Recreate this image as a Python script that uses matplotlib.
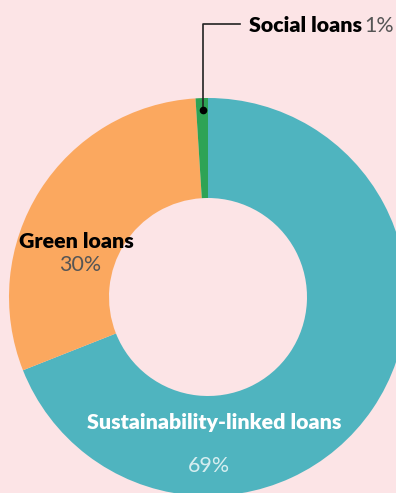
import matplotlib.pyplot as plt

# data
labels = ["Sustainability-linked loans", "Green loans", "Social loans"]
shares = [69, 30, 1]
colors = ["#4fb4bf", "#fba85f", "#2ea355"]

plt.rcParams['font.family'] = ['Lato', 'DejaVu Sans']

W, H = 396, 493
fig = plt.figure(figsize=(W / 100, H / 100), dpi=100, facecolor="#fce4e6")
ax = fig.add_axes([0, 0, 1, 1])
ax.set_facecolor("#fce4e6")

cx, cy, r = 208, 297, 199
# y axis is inverted, so counterclock=True draws clockwise on screen
ax.pie(shares, colors=colors, startangle=-90, counterclock=True,
       center=(cx, cy), radius=r, frame=True,
       wedgeprops=dict(width=100, linewidth=0))
ax.set_xlim(0, W)
ax.set_ylim(H, 0)
ax.set_aspect("equal")
ax.axis("off")

fs = 15.4

# social loans callout
ax.plot([203, 203, 240], [110, 24, 24], color="#222222", lw=1.2)
ax.plot(203, 110, "o", color="black", ms=4.5)
ax.text(249, 26, labels[2], fontsize=fs, fontweight="heavy", va="center", ha="left", color="black")
ax.text(394, 26, f"{shares[2]}%", fontsize=fs, fontweight="normal", va="center", ha="right", color="#555555")

ax.text(76, 241, labels[1], fontsize=fs, fontweight="heavy", va="center", ha="center", color="black")
ax.text(80, 265, f"{shares[1]}%", fontsize=fs, fontweight="normal", va="center", ha="center", color="#555555")

ax.text(214, 422, labels[0], fontsize=fs, fontweight="heavy", va="center", ha="center", color="white")
ax.text(209, 466, f"{shares[0]}%", fontsize=fs, fontweight="normal", va="center", ha="center", color="#d6eef0")

fig.savefig("out.png", dpi=100, facecolor=fig.get_facecolor())
